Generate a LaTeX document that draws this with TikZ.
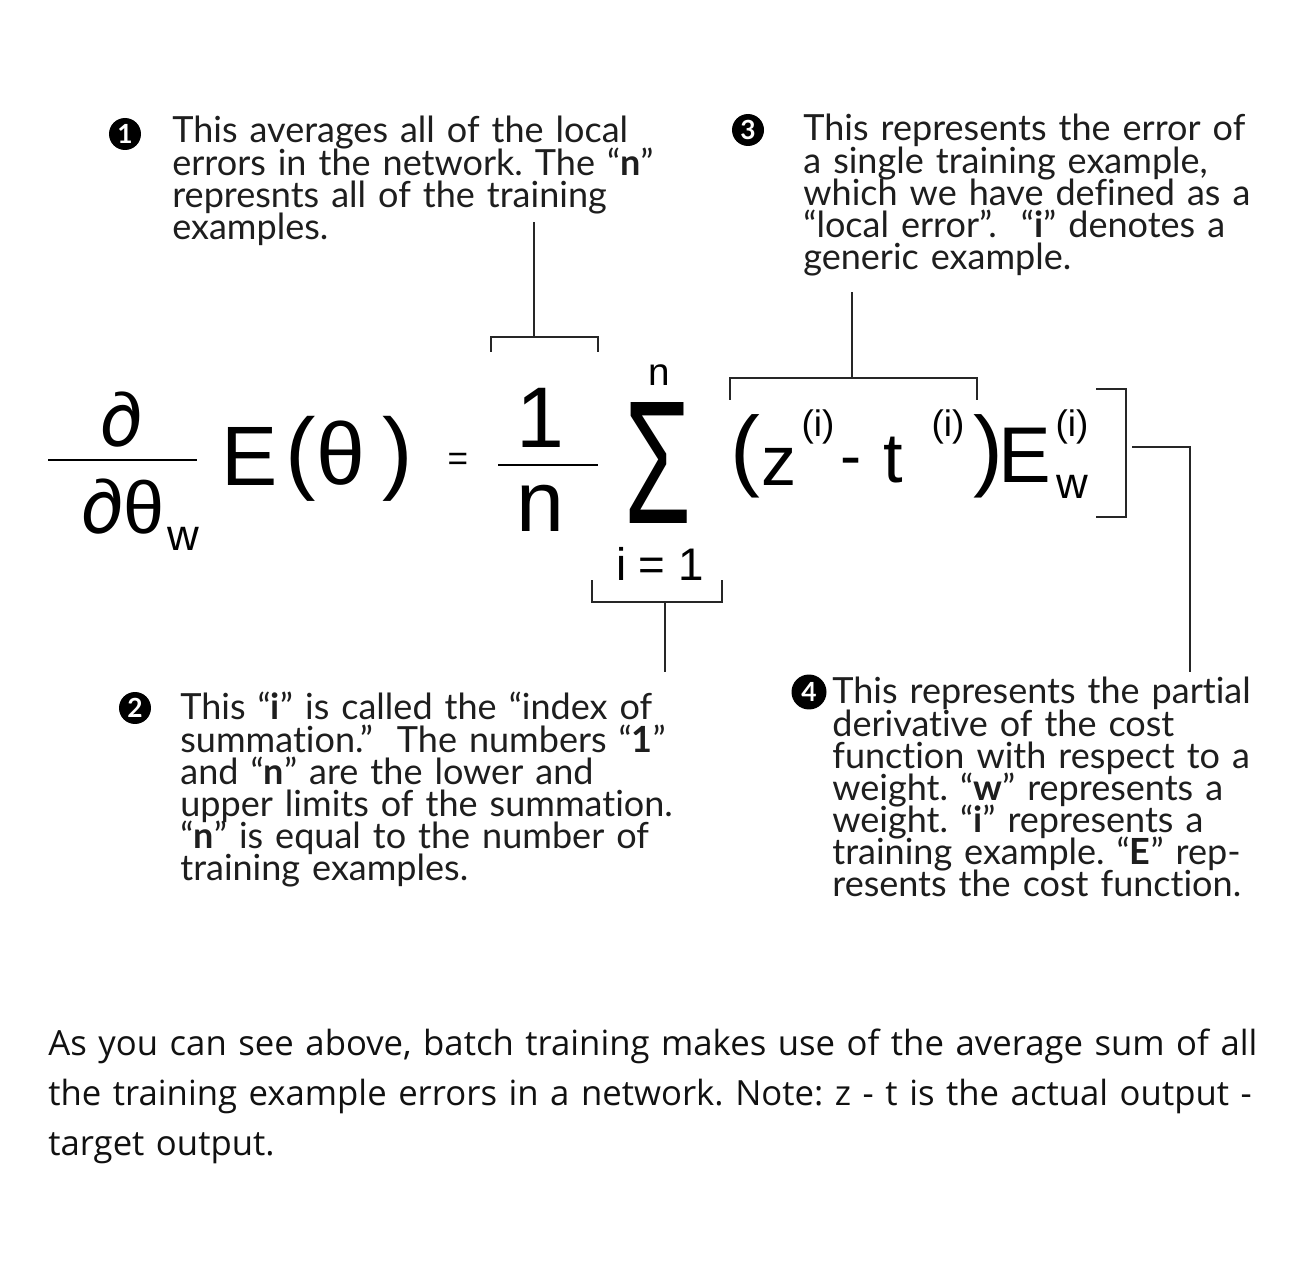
\documentclass[tikz,border=0pt]{standalone}
\usepackage{fontspec}
\setmainfont{Lato}[Ligatures=NoCommon]
\newfontfamily\eqfont{Liberation Sans}
\newfontfamily\dfont{Poppins}
\newfontfamily\capfont{Open Sans}
\usetikzlibrary{positioning}
\definecolor{noteInk}{HTML}{1E1E1E}
\definecolor{capInk}{HTML}{111111}
\newcommand\notefont{\fontsize{20.5}{18.3}\selectfont\lineskiplimit=-30pt\relax\frenchspacing}
\newcommand\captext{\capfont\fontsize{19.75}{28.45}\selectfont\frenchspacing}
\tikzset{
  note/.style={anchor=north west, inner sep=0pt, align=left, text width=11cm,
    font=\notefont, text=noteInk},
  num/.style={circle, fill=black, text=white, inner sep=0pt, minimum size=0.64cm,
    font=\bfseries\fontsize{15}{15}\selectfont},
  sym/.style={inner sep=0pt, text=black, font=\eqfont\fontsize{#1}{#1}\selectfont},
  brk/.style={line width=1.3pt, draw=black!85},
  fbar/.style={line width=1.7pt},
  caption/.style={anchor=north west, inner sep=0pt, align=left, text width=26cm,
    font=\captext, text=capInk}
}

\begin{document}
\begin{tikzpicture}[x=0.02cm,y=-0.02cm]
  \useasboundingbox[fill=white] (0,0) rectangle (1312,1280);

  % left hand side: derivative
  \node[sym=42] (dnum) at (122,420) {\dfont ∂};
  \draw[fbar] (48,460) -- (197,460);
  \node[sym=42] (dden) at (123,507) {\dfont ∂\eqfont θ};
  \node[sym=25] (dw) at (183,539) {w};
  \node[sym=48] (E1) at (250,456) {E};
  \node[sym=52] (lp1) at (301,459) {(};
  \node[sym=50] (th) at (341,453) {θ};
  \node[sym=52] (rp1) at (398,459) {)};
  \node[sym=20] (eqs) at (458,462) {=};

  % average and sum
  \node[sym=49] (one) at (540,418) {1};
  \draw[fbar] (498,465) -- (598,465);
  \node[sym=49] (nden) at (540,508) {n};
  \node[sym=60] (sig) at (658,463) {\resizebox{1.34cm}{2.42cm}{Σ}};
  \node[sym=22] (ntop) at (659,375) {n};
  \node[sym=26] (ione) at (660,564) {i = 1};

  % local error term
  \node[sym=51] (lp2) at (745,456) {(};
  \node[sym=40] (zz) at (779,467) {z};
  \node[sym=21] (zi) at (818,427) {(i)};
  \node[sym=36] (mns) at (851,468) {-};
  \node[sym=40] (tt) at (893,460) {t};
  \node[sym=21] (ti) at (948,427) {(i)};
  \node[sym=51] (rp2) at (988,456) {)};
  \node[sym=45] (E2) at (1025,455) {E};
  \node[sym=21] (Ei) at (1072,427) {(i)};
  \node[sym=25] (Ew) at (1072,487) {w};

  % callouts
  \node[num] (b1) at (125,134) {1};
  \node[note] (note1) at (172,116) {This averages all of the local\\errors in the network. The “\textbf{n}”\\represnts all of the training\\examples.};
  \node[num] (b3) at (748,130) {3};
  \node[note] (note3) at (803,114) {This represents the error of\\a single training example,\\which we have defined as a\\“local error”.\ \ “\textbf{i}” denotes a\\generic example.};
  \node[num] (b2) at (135,708) {2};
  \node[note] (note2) at (180,692) {This “\textbf{i}” is called the “index of\\summation.”\ \ The numbers “\textbf{1}”\\and “\textbf{n}” are the lower and\\upper limits of the summation.\\“\textbf{n}” is equal to the number of\\training examples.};
  \node[num, minimum size=0.7cm] (b4) at (809,692) {4};
  \node[note] (note4) at (832,677) {This represents the partial\\derivative of the cost\\function with respect to a\\weight. “\textbf{w}” represents a\\weight. “\textbf{i}” represents a\\training example. “\textbf{E}” rep-\\resents the cost function.};

  % brackets and leaders
  \coordinate (k1) at (534,337);
  \coordinate (t1) at (534,222);
  \draw[brk] (491,352) -- (491,337) -- (598,337) -- (598,352);
  \draw[brk] (k1) -- (t1);

  \coordinate (k2) at (665,602);
  \coordinate (t2) at (665,672);
  \draw[brk] (592,580) -- (592,602) -- (722,602) -- (722,580);
  \draw[brk] (k2) -- (t2);

  \coordinate (k3) at (852,378);
  \coordinate (t3) at (852,292);
  \draw[brk] (730,400) -- (730,378) -- (977,378) -- (977,400);
  \draw[brk] (k3) -- (t3);

  \coordinate (k4) at (1132,447);
  \coordinate (t4) at (1190,672);
  \draw[brk] (1096,389) -- (1126,389) -- (1126,517) -- (1096,517);
  \draw[brk] (k4) -| (t4);

  % caption
  \node[caption] (cap) at (48,1029) {As you can see above, batch training makes use of the average sum of all\\the training example errors in a network. Note: z - t is the actual output -\\target output.};
\end{tikzpicture}
\end{document}
